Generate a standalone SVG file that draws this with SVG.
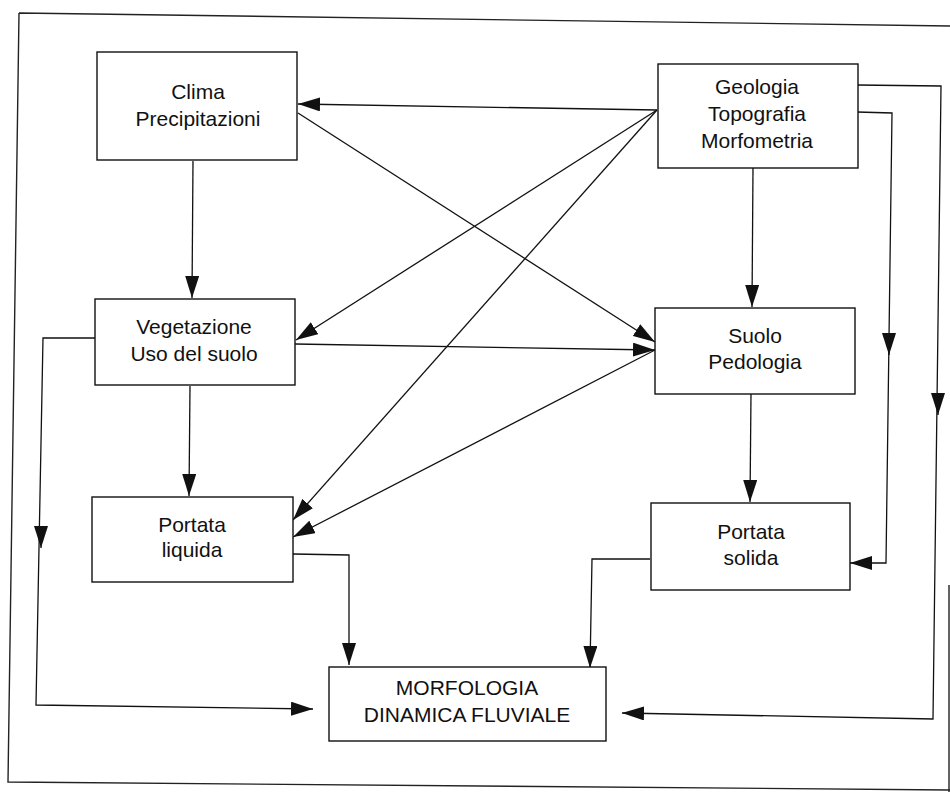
<svg xmlns="http://www.w3.org/2000/svg" width="950" height="792" viewBox="0 0 950 792">
<style>
.box{fill:#fff;stroke:#111;stroke-width:1.4}
.t{font-family:"Liberation Sans",Arial,sans-serif;font-size:21px;fill:#111;text-anchor:middle}
.c{fill:none;stroke:#111;stroke-width:1.3;marker-end:url(#ah)}
.frame{fill:none;stroke:#222;stroke-width:1.4}
</style>
<defs>
<marker id="ah" markerUnits="userSpaceOnUse" viewBox="0 0 22 14" refX="22" refY="7" markerWidth="22" markerHeight="14" orient="auto">
<path d="M0,0 L22,7 L0,14 z" fill="#111"/>
</marker>
</defs>
<rect width="950" height="792" fill="#fff"/>
<path class="frame" d="M19,13 L950,26 M19,13 L8,782 L950,790 M949,585 L949,792"/>
<g id="connectors">
<path class="c" d="M657,110 L298,104"/>
<path class="c" d="M298,113 L655,342"/>
<path class="c" d="M657,110 L296,340"/>
<path class="c" d="M657,110 L293,520"/>
<path class="c" d="M655,350 L293,537"/>
<path class="c" d="M295,344 L655,350"/>
<path class="c" d="M193,161 L192,298"/>
<path class="c" d="M753,168 L752,307"/>
<path class="c" d="M190,386 L189,496"/>
<path class="c" d="M751,394 L750,502"/>
<path class="c" d="M857,112 L892,113 L886,563 L850,563"/>
<path class="c" d="M889,340 L889,355"/>
<path class="c" d="M857,85 L941,86 L933,719 L622,713"/>
<path class="c" d="M938,400 L938,415"/>
<path class="c" d="M95,338 L43,338 L36,705 L313,709"/>
<path class="c" d="M41,530 L41,548"/>
<path class="c" d="M293,554 L349,555 L349,665"/>
<path class="c" d="M650,559 L592,559 L590,668"/>
</g>
<g id="clima">
<rect class="box" x="97" y="52" width="200" height="108"/>
<text class="t" x="198" y="99">Clima</text>
<text class="t" x="198" y="126">Precipitazioni</text>
</g>
<g id="geologia">
<rect class="box" x="658" y="64" width="200" height="104"/>
<text class="t" x="757" y="94">Geologia</text>
<text class="t" x="757" y="121">Topografia</text>
<text class="t" x="757" y="148">Morfometria</text>
</g>
<g id="vegetazione">
<rect class="box" x="95" y="299" width="200" height="86"/>
<text class="t" x="194" y="334">Vegetazione</text>
<text class="t" x="194" y="361">Uso del suolo</text>
</g>
<g id="suolo">
<rect class="box" x="655" y="308" width="200" height="86"/>
<text class="t" x="755" y="343">Suolo</text>
<text class="t" x="755" y="369">Pedologia</text>
</g>
<g id="portata-liquida">
<rect class="box" x="92" y="497" width="201" height="85"/>
<text class="t" x="192" y="532">Portata</text>
<text class="t" x="192" y="557">liquida</text>
</g>
<g id="portata-solida">
<rect class="box" x="651" y="503" width="199" height="87"/>
<text class="t" x="751" y="539">Portata</text>
<text class="t" x="751" y="565">solida</text>
</g>
<g id="morfologia">
<rect class="box" x="329" y="667" width="277" height="74"/>
<text class="t" x="467" y="695">MORFOLOGIA</text>
<text class="t" x="467" y="722">DINAMICA FLUVIALE</text>
</g>
</svg>
